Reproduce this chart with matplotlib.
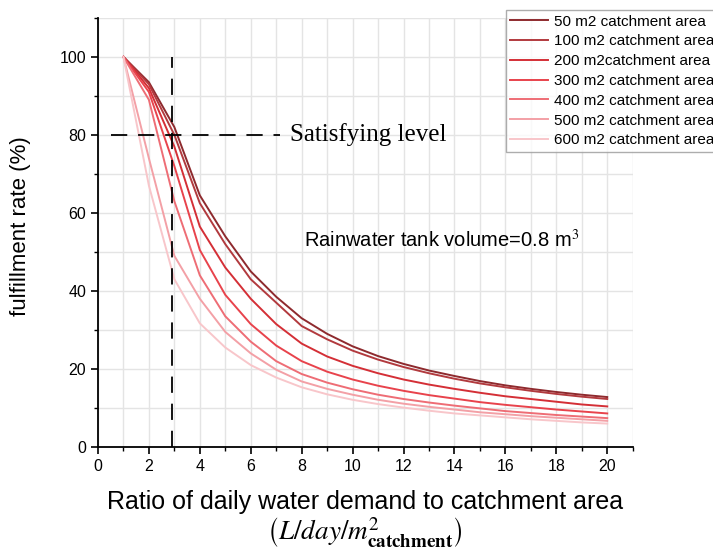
import matplotlib
matplotlib.use("Agg")
import matplotlib.pyplot as plt
from matplotlib.ticker import MultipleLocator

plt.rcParams['font.family'] = ['Liberation Sans', 'DejaVu Sans']
plt.rcParams['mathtext.fontset'] = 'stix'

# demand / catchment ratio (L/day/m2)
ratio = [1, 2, 3, 4, 5, 6, 7, 8, 9, 10, 11, 12, 13, 14, 15, 16, 17, 18, 19, 20]

# fulfillment rate (%) for each catchment area, tank volume 0.8 m3
rate_50 = [100, 93.5, 82, 64.5, 54, 45, 38.5, 33, 29, 25.8, 23.3, 21.3, 19.6, 18.2, 16.9, 15.8, 14.9, 14.1, 13.4, 12.8]
rate_100 = [100, 93, 80, 62.5, 52, 43, 37, 31, 27.6, 24.7, 22.4, 20.5, 18.9, 17.5, 16.3, 15.3, 14.4, 13.6, 12.9, 12.3]
rate_200 = [100, 92, 77, 56.5, 46, 38, 31.5, 26.5, 23.2, 20.8, 18.9, 17.3, 16, 14.9, 13.9, 13, 12.3, 11.6, 10.9, 10.4]
rate_300 = [100, 91, 72, 50.5, 39, 31.5, 26, 22, 19.3, 17.3, 15.7, 14.4, 13.3, 12.4, 11.5, 10.8, 10.2, 9.6, 9.1, 8.6]
rate_400 = [100, 89, 63, 44, 33.5, 27, 22, 18.7, 16.5, 14.8, 13.4, 12.3, 11.4, 10.6, 9.9, 9.2, 8.7, 8.2, 7.8, 7.4]
rate_500 = [100, 74, 49, 38, 29.5, 24, 19.8, 16.8, 14.9, 13.4, 12.1, 11.1, 10.3, 9.6, 8.9, 8.4, 7.9, 7.5, 7.1, 6.7]
rate_600 = [100, 67, 43, 31.7, 25.5, 21, 17.8, 15.3, 13.5, 12.1, 11, 10.1, 9.3, 8.6, 8.1, 7.6, 7.1, 6.7, 6.3, 6.0]

labels = ['50 m2 catchment area', '100 m2 catchment area', '200 m2catchment area',
          '300 m2 catchment area', '400 m2 catchment area', '500 m2 catchment area',
          '600 m2 catchment area']
series = [rate_50, rate_100, rate_200, rate_300, rate_400, rate_500, rate_600]
colors = ['#8e2a2e', '#b23a3e', '#d42f36', '#e8434c', '#ee6d75', '#f3a0a6', '#f8c6ca']

satisfying_level = 80
design_ratio = 2.9

fig = plt.figure(figsize=(7.13, 5.53), dpi=100)
ax = fig.add_axes([0.1374, 0.1917, 0.750, 0.776])

for vals, lab, col in zip(series, labels, colors):
    ax.plot(ratio, vals, color=col, lw=1.4, label=lab, zorder=3)

# satisfying level and design ratio markers
ax.plot([0.5, 7.15], [satisfying_level, satisfying_level], color='black', lw=1.3,
        dashes=(9, 6), zorder=4)
ax.plot([design_ratio, design_ratio], [0, 100], color='black', lw=1.3,
        dashes=(9, 6), zorder=4)

ax.text(7.55, satisfying_level, 'Satisfying level', family='Liberation Serif',
        fontsize=18, va='center', ha='left')
ax.text(8.1, 53, 'Rainwater tank volume=0.8 m$^3$', fontsize=14.5,
        va='center', ha='left')

ax.set_xlim(0, 21)
ax.set_ylim(0, 110)
ax.xaxis.set_major_locator(MultipleLocator(2))
ax.xaxis.set_minor_locator(MultipleLocator(1))
ax.yaxis.set_minor_locator(MultipleLocator(10))
ax.set_yticks([0, 20, 40, 60, 80, 100])
ax.grid(which='both', color='#e4e4e4', lw=1.0, zorder=0)
ax.set_axisbelow(True)

for side in ['top', 'right']:
    ax.spines[side].set_visible(False)
for side in ['left', 'bottom']:
    ax.spines[side].set_linewidth(1.3)
ax.tick_params(which='major', length=5, width=1.2, labelsize=11.5, colors='black')
ax.tick_params(which='minor', length=3, width=1.0)

ax.set_ylabel('fulfillment rate (%)', fontsize=16)
ax.yaxis.set_label_coords(-0.125, 0.515)

fig.text(0.512, 0.092, 'Ratio of daily water demand to catchment area',
         fontsize=18, ha='center', va='center')
fig.text(0.512, 0.036, r'$\left(L/day/m^{2}_{\mathbf{catchment}}\right)$',
         fontsize=19.5, ha='center', va='center')

fig.legend(loc='upper left', bbox_to_anchor=(0.709, 0.982), fontsize=11,
           frameon=True, fancybox=False, edgecolor='#999999', handlelength=2.5,
           handletextpad=0.4, labelspacing=0.38, borderpad=0.3, borderaxespad=0)

fig.savefig('out.png', dpi=100)
